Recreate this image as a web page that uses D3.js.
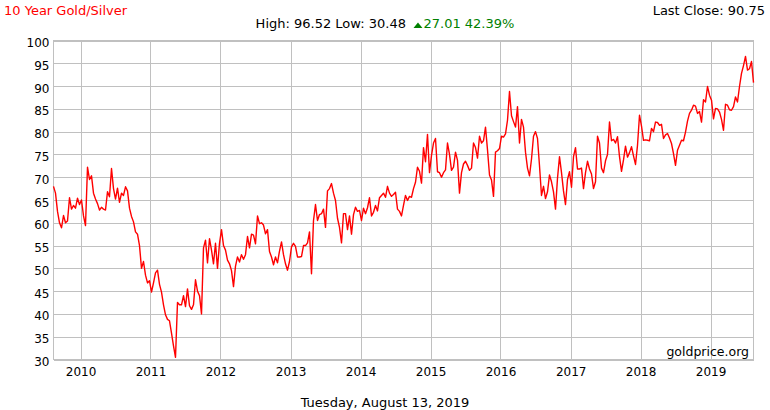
<!DOCTYPE html>
<html><head><meta charset="utf-8">
<script src="https://cdn.jsdelivr.net/npm/d3@7"></script>
<style>
html,body{margin:0;padding:0;background:#fff;}
svg{display:block;font-family:"DejaVu Sans",Verdana,sans-serif;}
</style></head><body>
<svg id="chart" width="770" height="410"></svg>
<script>
// ---------- data ----------
const titleText = "10 Year Gold/Silver";
const lastCloseText = "Last Close: 90.75";
const statsText = "High: 96.52 Low: 30.48";
const changeText = "27.01 42.39%";
const dateText = "Tuesday, August 13, 2019";
const sourceText = "goldprice.org";
const startDate = "2009-08-13";
const endDate = "2019-08-13";
const yTicks = [30, 35, 40, 45, 50, 55, 60, 65, 70, 75, 80, 85, 90, 95, 100];
const xTickYears = [2010, 2011, 2012, 2013, 2014, 2015, 2016, 2017, 2018, 2019];
// gold/silver ratio, samples evenly spaced from startDate to endDate
const ratio = [
68.0, 66.5, 62.5, 60.0, 58.9, 61.6, 60.0, 60.4, 65.5, 63.0,
63.8, 63.2, 65.4, 64.0, 65.0, 61.5, 59.4, 72.2, 69.5, 70.3,
66.5, 65.2, 64.2, 62.8, 63.4, 63.0, 62.8, 66.8, 65.7, 71.9,
67.5, 65.2, 67.6, 64.5, 66.5, 66.0, 67.9, 67.0, 63.2, 61.4,
60.2, 58.0, 57.5, 55.0, 50.0, 51.5, 48.5, 46.8, 47.3, 44.8,
46.8, 49.0, 49.6, 46.5, 44.8, 42.0, 39.8, 38.8, 38.5, 35.8,
33.0, 30.48, 42.5, 42.0, 42.0, 44.0, 41.6, 45.5, 41.8, 41.0,
42.0, 47.5, 45.0, 44.0, 40.0, 54.5, 56.2, 51.2, 56.5, 54.0,
51.0, 55.5, 50.0, 55.5, 58.5, 55.0, 54.0, 51.8, 51.0,
49.5, 46.0, 50.5, 52.5, 51.4, 53.0, 52.0, 53.0, 57.0, 54.5,
57.5, 57.3, 55.4, 61.5, 59.8, 60.0, 59.5, 57.6, 58.5, 53.7,
52.5, 50.8, 52.5, 51.2, 53.8, 55.8, 53.0, 51.0, 49.6, 51.5,
54.7, 55.5, 54.8, 52.5, 52.5, 52.6, 55.0, 55.0, 55.6, 58.0,
48.8, 60.5, 64.0, 60.5, 61.8, 62.0, 63.0, 59.0, 67.0, 67.5,
68.6, 66.5, 64.9, 61.0, 59.0, 55.6, 62.0, 62.0, 58.5, 61.5,
57.5, 61.8, 63.4, 62.5, 62.7, 60.5, 63.2, 62.0, 63.3, 65.5,
61.5, 62.3, 63.8, 62.6, 65.5, 66.0, 66.5, 65.6, 68.0, 66.5,
65.8, 66.2, 66.7, 63.0, 62.5, 61.5, 63.8, 66.0, 64.9, 65.8,
65.6, 67.5, 68.9,
72.2, 71.3, 68.7, 76.5, 73.4, 79.4, 71.0, 74.8, 77.5, 78.5,
71.2, 71.0, 70.0, 71.0, 71.6, 77.5, 75.0, 71.5, 72.2, 75.5,
73.7, 66.5, 71.0, 72.9, 73.5, 72.6, 71.5, 72.0, 77.5, 76.5,
74.2, 79.0, 77.5, 78.0, 81.0, 76.0, 70.5, 69.4, 65.8, 75.5,
75.8, 76.3, 79.0, 78.8, 79.5, 82.5, 88.8, 83.5, 82.2, 81.0,
85.5, 77.5, 82.7, 81.0, 75.5, 72.0, 70.3, 74.0, 79.0, 80.0,
78.5, 72.5, 66.0, 68.0, 65.3, 66.8, 70.5, 69.0, 66.8, 63.0,
69.8, 74.5, 71.0, 67.0, 64.0, 69.5, 71.2, 67.8, 74.5, 76.5,
71.8, 71.8, 72.0, 67.5, 71.0, 73.5, 71.8,
70.7, 67.5, 69.0, 79.0, 77.5, 72.0, 71.0, 73.6, 75.0, 82.1,
78.0, 78.3, 77.5, 78.9, 74.5, 71.3, 73.8, 76.8, 74.4, 75.4,
76.7, 74.7, 72.8, 77.0, 83.6, 81.2, 78.1, 78.2, 78.1, 78.0,
80.7, 80.0, 82.1, 82.0, 81.4, 81.6, 78.5, 79.3, 79.6, 78.6,
77.4, 75.2, 72.6, 75.9, 77.0, 78.1, 78.0, 79.9, 82.3, 84.0,
84.7, 85.8, 85.6, 84.0, 84.4, 82.1, 87.0, 86.5, 89.9, 88.0,
86.9, 82.8, 85.1, 85.0, 84.3, 82.7, 80.3, 86.0, 85.8, 84.8,
84.7, 85.5, 87.6, 86.5, 89.9, 92.8, 94.5, 96.52, 93.5, 93.8,
95.4, 90.75
];

// ---------- chart ----------
const svg = d3.select("#chart");
const W = 770;
const m = {left: 53, top: 40, right: 753, bottom: 359};
const gridColor = "#c0c0c0";
const t0 = new Date(startDate + "T00:00:00");
const t1 = new Date(endDate + "T00:00:00");
const n = ratio.length;
const data = ratio.map((v, i) => ({date: new Date(+t0 + i * (t1 - t0) / (n - 1)), value: v}));

const x = d3.scaleTime().domain([t0, t1]).range([m.left + 0.5, m.right + 0.5]);
const y = d3.scaleLinear().domain([30, 100]).range([m.bottom + 0.5, m.top + 0.5]);
const yearDates = xTickYears.map(yr => new Date(yr, 0, 1));

// horizontal grid + y labels
const yAxis = d3.axisLeft(y).tickValues(yTicks).tickSize(-(m.right - m.left)).tickFormat(d3.format("d")).tickPadding(4);
const gy = svg.append("g").attr("transform", `translate(${m.left + 0.5},0)`).call(yAxis);
gy.select(".domain").remove();
gy.selectAll(".tick line").attr("stroke", gridColor).attr("shape-rendering", "crispEdges");
gy.selectAll(".tick text").attr("font-size", 12).attr("fill", "#000")
  .attr("font-family", '"DejaVu Sans",Verdana,sans-serif').attr("dy", 6).attr("x", -4);

// vertical grid + x labels
const xAxis = d3.axisBottom(x).tickValues(yearDates).tickSize(-(m.bottom - m.top)).tickFormat(d3.timeFormat("%Y")).tickPadding(0);
const gx = svg.append("g").attr("transform", `translate(0,${m.bottom + 0.5})`).call(xAxis);
gx.select(".domain").remove();
gx.selectAll(".tick line").attr("stroke", gridColor).attr("shape-rendering", "crispEdges");
gx.selectAll(".tick text").attr("font-size", 12).attr("fill", "#000")
  .attr("font-family", '"DejaVu Sans",Verdana,sans-serif').attr("y", 16.5).attr("dy", 0);

// plot frame
svg.append("rect").attr("x", m.left + 0.5).attr("y", m.top + 0.5)
  .attr("width", m.right - m.left).attr("height", m.bottom - m.top)
  .attr("fill", "none").attr("stroke", gridColor).attr("shape-rendering", "crispEdges");

// line
const line = d3.line().x(d => x(d.date)).y(d => y(d.value));
svg.append("path").datum(data).attr("d", line)
  .attr("fill", "none").attr("stroke", "#ff0000").attr("stroke-width", 1.4).attr("stroke-linejoin", "round");

// texts
svg.append("text").attr("x", 4).attr("y", 15).attr("font-size", 13).attr("fill", "#ff0000").text(titleText);
svg.append("text").attr("x", 765).attr("y", 15).attr("font-size", 13).attr("fill", "#000")
  .attr("text-anchor", "end").text(lastCloseText);

const hdr = svg.append("g");
const t1el = hdr.append("text").attr("y", 28).attr("font-size", 13).attr("fill", "#000").text(statsText);
const t2el = hdr.append("text").attr("y", 28).attr("font-size", 13).attr("fill", "#008000").text(changeText);
const w1 = t1el.node().getComputedTextLength();
const w2 = t2el.node().getComputedTextLength();
const gap1 = 7.5, triW = 9, gap2 = 1;
const total = w1 + gap1 + triW + gap2 + w2;
const sx = W / 2 - total / 2;
t1el.attr("x", sx);
const tx = sx + w1 + gap1;
hdr.append("path").attr("d", `M${tx},28L${tx + triW},28L${tx + triW / 2},22.5Z`).attr("fill", "#008000");
t2el.attr("x", tx + triW + gap2);

svg.append("text").attr("x", 749).attr("y", 356).attr("font-size", 12.5).attr("fill", "#000")
  .attr("text-anchor", "end").text(sourceText);
svg.append("text").attr("x", 385).attr("y", 407).attr("font-size", 13).attr("fill", "#000")
  .attr("text-anchor", "middle").text(dateText);
</script>
</body></html>
